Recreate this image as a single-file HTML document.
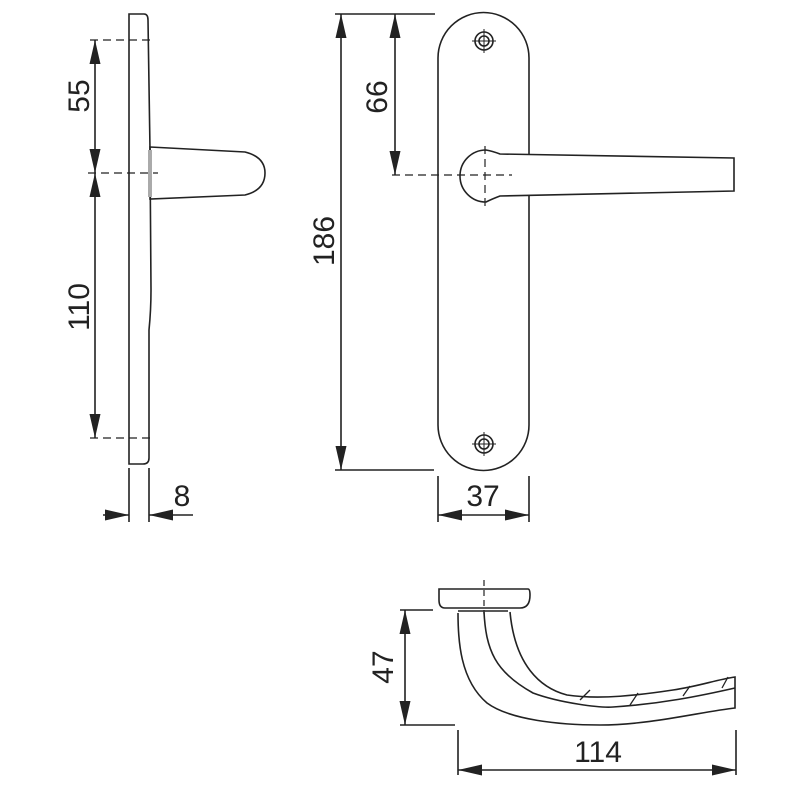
<!DOCTYPE html>
<html><head><style>body{margin:0;background:#fff}svg{display:block}</style></head><body>
<svg width="800" height="800" viewBox="0 0 800 800" xmlns="http://www.w3.org/2000/svg">
<defs>
<marker id="a" viewBox="0 0 24 11" refX="24" refY="5.5" markerWidth="24" markerHeight="11" markerUnits="userSpaceOnUse" orient="auto-start-reverse"><path d="M0,0L24,5.5L0,11z" fill="#222"/></marker>
</defs>
<g fill="none" stroke="#222" stroke-width="1.6" font-family="Liberation Sans, sans-serif">
<path d="M129,14 L144,14 Q148,14 148,20 L150,150 L151,290 Q151,310 149,330 L149,458 Q149,464 143,464 L129,464 Z"/>
<path d="M150,147 L245,152 Q265,157 265,173 Q265,190 245,195 L150,199 Z"/>
<line x1="150" y1="150" x2="150" y2="197" stroke-width="4" stroke="#aaa"/>
<g stroke-dasharray="8,5" stroke-width="1.2">
<line x1="90" y1="40" x2="152" y2="40"/><line x1="88" y1="173" x2="158" y2="173"/><line x1="90" y1="438" x2="152" y2="438"/>
</g>
<line x1="95" y1="40" x2="95" y2="173" marker-start="url(#a)" marker-end="url(#a)"/>
<line x1="95" y1="173" x2="95" y2="438" marker-start="url(#a)" marker-end="url(#a)"/>
<line x1="129" y1="468" x2="129" y2="522"/><line x1="149" y1="468" x2="149" y2="522"/>
<line x1="103" y1="515" x2="129" y2="515" marker-end="url(#a)"/>
<line x1="193" y1="515" x2="149" y2="515" marker-end="url(#a)"/>
<path d="M438,58 A45.5,45.5 0 0 1 529,58 L529,425 A45.5,45.5 0 0 1 438,425 Z"/>
<circle cx="484" cy="41" r="9"/><circle cx="484" cy="41" r="5"/>
<line x1="472" y1="41" x2="496" y2="41" stroke-width="1"/><line x1="484" y1="29" x2="484" y2="53" stroke-width="1"/>
<circle cx="484" cy="444" r="9"/><circle cx="484" cy="444" r="5"/>
<line x1="472" y1="444" x2="496" y2="444" stroke-width="1"/><line x1="484" y1="432" x2="484" y2="456" stroke-width="1"/>
<path d="M486,150 A26,26 0 0 0 486,202 Q492,199 500,196 L734,191 L734,158 L500,154 Q492,151 486,150 Z" fill="#fff"/>
<g stroke-dasharray="8,5" stroke-width="1.2"><line x1="392" y1="175" x2="512" y2="175"/><line x1="485" y1="146" x2="485" y2="206"/></g>
<line x1="335" y1="14" x2="435" y2="14"/><line x1="335" y1="470" x2="434" y2="470"/>
<line x1="341" y1="14" x2="341" y2="470" marker-start="url(#a)" marker-end="url(#a)"/>
<line x1="395" y1="14" x2="395" y2="175" marker-start="url(#a)" marker-end="url(#a)"/>
<line x1="438" y1="476" x2="438" y2="522"/><line x1="529" y1="476" x2="529" y2="522"/>
<line x1="438" y1="515" x2="529" y2="515" marker-start="url(#a)" marker-end="url(#a)"/>
<path d="M439,589 L528,589 Q530,589 530,595 Q530,608 520,608 L445,608 Q439,608 439,600 Z"/>
<line x1="458" y1="611" x2="508" y2="611"/>
<path d="M458,613 C458,640 460,680 487,703 C510,720 560,725 600,725 C650,725 700,712 735,708 L735,677 C715,680 700,686 673,690 C640,695 600,700 567,695 C540,688 515,665 510,612"/>
<path d="M484,612 C486,650 495,672 533,693 C560,703 600,708 613,707 C660,704 700,696 735,688"/>
<g stroke-width="1.3"><path d="M580,700 L590,690"/><path d="M630,705 L638,693"/><path d="M683,696 L690,686"/><path d="M722,688 L728,677"/></g>
<line x1="484" y1="580" x2="484" y2="614" stroke-dasharray="6,4" stroke-width="1.2"/>
<line x1="400" y1="610" x2="433" y2="610"/><line x1="400" y1="725" x2="455" y2="725"/>
<line x1="405" y1="610" x2="405" y2="725" marker-start="url(#a)" marker-end="url(#a)"/>
<line x1="458" y1="730" x2="458" y2="775"/><line x1="736" y1="730" x2="736" y2="775"/>
<line x1="458" y1="770" x2="736" y2="770" marker-start="url(#a)" marker-end="url(#a)"/>
</g>
<g font-family="Liberation Sans, sans-serif" font-size="30" fill="#222" text-anchor="middle">
<text transform="translate(89,96) rotate(-90)">55</text>
<text transform="translate(89,307) rotate(-90)">110</text>
<text x="182" y="506">8</text>
<text transform="translate(334,241) rotate(-90)">186</text>
<text transform="translate(387,97) rotate(-90)">66</text>
<text x="483" y="506">37</text>
<text transform="translate(393,667) rotate(-90)">47</text>
<text x="598" y="762">114</text>
</g>
</svg>
</body></html>
